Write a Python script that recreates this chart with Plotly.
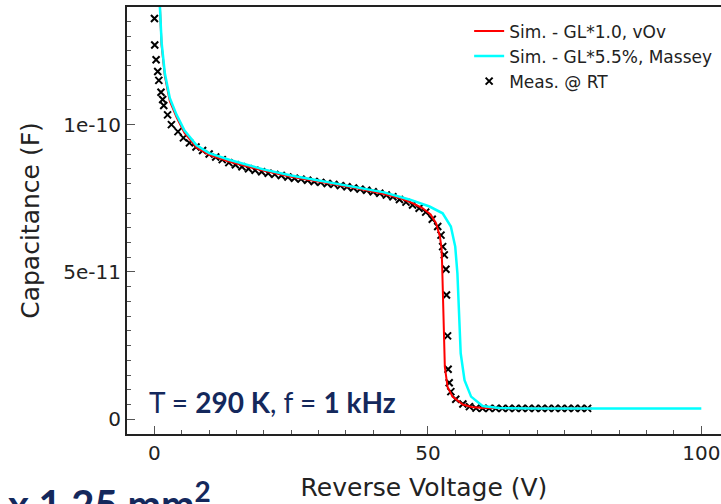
import plotly.graph_objects as go

# ---- data (capacitance in units of 1e-11 F) ----
meas_v = [0.0, 0.05, 0.3, 0.6, 0.8, 1.2, 1.5, 1.7, 2.4, 3.1, 4.3, 5.3, 6.4, 7.6, 8.8,
          10.0, 11.2, 12.4, 13.6, 14.8, 16.0, 17.2, 18.4, 19.6, 20.8, 22.0, 23.2, 24.4,
          25.6, 26.8, 28.0, 29.2, 30.4, 31.6, 32.8, 34.0, 35.2, 36.4, 37.6, 38.8, 40.0,
          41.2, 42.4, 43.6, 44.8, 46.0, 47.2, 48.4, 49.6, 50.8, 51.8, 52.4, 52.7, 53.0,
          53.3, 53.4, 53.6, 53.7, 53.9, 54.2, 55.1, 56.4, 57.6, 58.8, 60.0, 61.2, 62.4,
          63.6, 64.8, 66.0, 67.2, 68.4, 69.6, 70.8, 72.0, 73.2, 74.4, 75.6, 76.8, 78.0, 79.2]
meas_c = [13.6, 12.7, 12.2, 11.8, 11.5, 11.1, 10.85, 10.65, 10.33, 10.0, 9.76, 9.55, 9.38, 9.24, 9.12,
          9.0, 8.9, 8.81, 8.71, 8.64, 8.57, 8.5, 8.45, 8.4, 8.35, 8.31, 8.27, 8.22,
          8.18, 8.15, 8.11, 8.07, 8.04, 8.0, 7.97, 7.93, 7.89, 7.85, 7.81, 7.77, 7.72,
          7.67, 7.61, 7.55, 7.46, 7.37, 7.27, 7.16, 7.03, 6.79, 6.54, 6.25, 5.86, 5.58,
          5.09, 4.22, 2.83, 1.70, 1.24, 0.94, 0.68, 0.52, 0.43, 0.38, 0.37, 0.37, 0.37,
          0.37, 0.37, 0.37, 0.37, 0.37, 0.37, 0.37, 0.37, 0.37, 0.37, 0.37, 0.37, 0.37, 0.37]

red_v = [1.0, 1.3, 1.9, 2.8, 4.05, 5.5, 7.7, 10.0, 13.8, 19.9, 25.0, 31.4, 37.0, 42.0,
         45.0, 47.0, 49.0, 50.5, 51.5, 52.2, 52.5, 52.6, 52.8, 53.1, 53.6, 54.5, 56.4,
         58.0, 60.0, 80.0]
red_c = [14.0, 12.7, 11.65, 10.8, 10.25, 9.72, 9.22, 8.97, 8.74, 8.44, 8.23, 8.02, 7.84, 7.64,
         7.5, 7.35, 7.17, 6.95, 6.65, 6.2, 5.8, 5.29, 3.6, 1.78, 1.1, 0.77, 0.5,
         0.42, 0.38, 0.37]

cyan_v = [1.0, 1.3, 1.9, 2.8, 4.05, 5.5, 7.7, 10.0, 13.8, 19.9, 25.0, 31.4, 37.0, 42.0,
          46.6, 50.3, 52.7, 54.2, 55.0, 55.4, 55.7, 56.0, 56.7, 57.9, 60.0, 63.0, 70.0, 100.0]
cyan_c = [14.0, 12.8, 11.74, 10.9, 10.33, 9.8, 9.3, 9.03, 8.8, 8.48, 8.27, 8.05, 7.88, 7.7,
          7.46, 7.22, 6.99, 6.54, 5.86, 4.95, 3.6, 2.24, 1.33, 0.77, 0.45, 0.38, 0.37, 0.37]

x_ticks = [0, 50, 100]
y_tickvals = [0, 5e-11, 1e-10]
y_ticktext = ["0", "5e-11", "1e-10"]

SCALE = 1e-11
NAVY = "#14285c"
FONT = "DejaVu Sans"

fig = go.Figure()
fig.add_trace(go.Scatter(
    x=meas_v, y=[c * SCALE for c in meas_c], mode="markers", name="Meas. @ RT",
    marker=dict(symbol="x-thin", size=7, color="black", line=dict(width=2, color="black")),
    legendrank=3))
fig.add_trace(go.Scatter(
    x=red_v, y=[c * SCALE for c in red_c], mode="lines", name="Sim. - GL*1.0, vOv",
    line=dict(color="#ff0000", width=2), legendrank=1))
fig.add_trace(go.Scatter(
    x=cyan_v, y=[c * SCALE for c in cyan_c], mode="lines", name="Sim. - GL*5.5%, Massey",
    line=dict(color="#00ffff", width=2.5), legendrank=2))

fig.update_layout(
    width=721, height=504,
    margin=dict(l=127, r=0, t=7, b=70),
    paper_bgcolor="white", plot_bgcolor="white",
    font=dict(family=FONT, color="#222222"),
    showlegend=True,
    legend=dict(x=0.576, xanchor="left", y=0.985, yanchor="top",
                font=dict(family=FONT, size=17, color="#222222"),
                bgcolor="rgba(255,255,255,0)", borderwidth=0,
                traceorder="normal"),
    xaxis=dict(range=[-5.02, 103.6], showgrid=False, zeroline=False,
               showline=True, linecolor="#222222", linewidth=2, mirror=True,
               ticks="inside", ticklen=8, tickwidth=1, tickcolor="#555555",
               tickvals=x_ticks, ticktext=[str(t) for t in x_ticks],
               ticklabeloverflow="allow",
               tickfont=dict(family=FONT, size=20, color="#222222"),
               minor=dict(dtick=5, ticks="inside", ticklen=4, tickcolor="#555555", showgrid=False),
               title=dict(text="Reverse Voltage (V)", font=dict(family=FONT, size=25, color="#222222"),
                          standoff=14)),
    yaxis=dict(range=[-4.99e-12, 1.399e-10], showgrid=False, zeroline=False,
               showline=True, linecolor="#222222", linewidth=2, mirror=False,
               ticks="inside", ticklen=8, tickwidth=1, tickcolor="#555555",
               tickvals=y_tickvals, ticktext=y_ticktext,
               tickfont=dict(family=FONT, size=20, color="#222222"),
               minor=dict(dtick=5e-12, ticks="inside", ticklen=4, tickcolor="#555555", showgrid=False),
               title=dict(text="Capacitance (F)", font=dict(family=FONT, size=25, color="#222222"),
                          standoff=17)),
)

fig.add_annotation(
    xref="paper", yref="paper", x=0.033, y=0.075, xanchor="left", yanchor="middle",
    text="T = <b>290 K</b>, f = <b>1 kHz</b>", showarrow=False,
    font=dict(family="Lato", size=28, color=NAVY))

fig.add_annotation(
    xref="paper", yref="paper", x=-0.203, y=-0.088, xanchor="left", yanchor="top",
    text="<b>x 1.25 mm<sup>2</sup></b>", showarrow=False,
    font=dict(family="Lato", size=40, color=NAVY))

fig.write_html("out.html")
